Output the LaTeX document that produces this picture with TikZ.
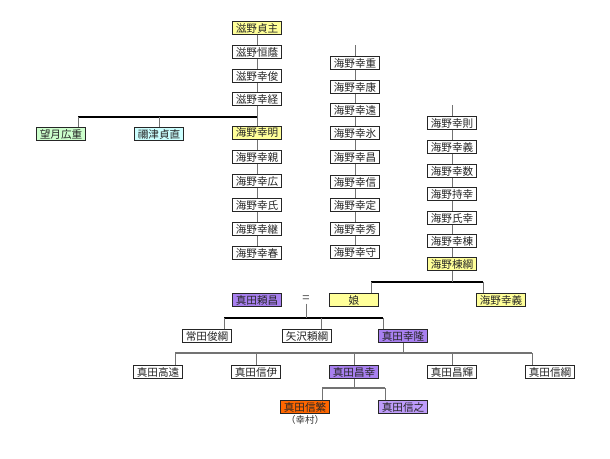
\documentclass[tikz,border=0pt]{standalone}
\usepackage{fontspec}
\newfontfamily\jp{Noto Sans CJK JP}
\definecolor{yel}{HTML}{FFFF99}
\definecolor{grn}{HTML}{CCFFCC}
\definecolor{cyn}{HTML}{CCFFFF}
\definecolor{pur}{HTML}{A880F0}
\definecolor{pur2}{HTML}{BE9CFA}
\definecolor{org}{HTML}{FF6600}
\tikzset{
  person/.style={draw=black!85, line width=0.9pt, fill=white, minimum width=49pt, minimum height=12.5pt, inner sep=0pt, font=\jp\fontsize{10.6}{10}\selectfont, text=black!85},
  link/.style={draw=black!55, line width=0.8pt},
  bar/.style={draw=black, line width=1.5pt},
  gbar/.style={draw=black!55, line width=1.3pt},
}
\begin{document}
\begin{tikzpicture}[x=1pt,y=-1pt]
\useasboundingbox (0,0) rectangle (610,458);
% column A
\node[person,fill=yel] (a1) at (257,28) {滋野貞主};
\node[person] (a2) at (257,52) {滋野恒蔭};
\node[person] (a3) at (257,76) {滋野幸俊};
\node[person] (a4) at (257,99) {滋野幸経};
\node[person,fill=yel] (a5) at (257,133) {海野幸明};
\node[person] (a6) at (257,157) {海野幸親};
\node[person] (a7) at (257,181) {海野幸広};
\node[person] (a8) at (257,205) {海野幸氏};
\node[person] (a9) at (257,229) {海野幸継};
\node[person] (a10) at (257,253) {海野幸春};
\node[person,fill=grn] (m1) at (61,134) {望月広重};
\node[person,fill=cyn] (n1) at (159,134) {禰津貞直};
% column B
\coordinate (btop) at (355,45);
\node[person] (b1) at (355,63) {海野幸重};
\node[person] (b2) at (355,87) {海野幸康};
\node[person] (b3) at (355,110) {海野幸遠};
\node[person] (b4) at (355,133) {海野幸氷};
\node[person] (b5) at (355,157) {海野幸昌};
\node[person] (b6) at (355,182) {海野幸信};
\node[person] (b7) at (355,205) {海野幸定};
\node[person] (b8) at (355,229) {海野幸秀};
\node[person] (b9) at (355,252) {海野幸守};
% column C
\coordinate (ctop) at (452,105);
\node[person] (c1) at (452,123) {海野幸則};
\node[person] (c2) at (452,147) {海野幸義};
\node[person] (c3) at (452,171) {海野幸数};
\node[person] (c4) at (452,194) {海野持幸};
\node[person] (c5) at (452,218) {海野氏幸};
\node[person] (c6) at (452,241) {海野幸棟};
\node[person,fill=yel] (c7) at (452,264) {海野棟綱};
% row of 娘
\node[person,fill=pur] (s1) at (257,300) {真田頼昌};
\node[font=\jp\fontsize{13}{13}\selectfont, text=black!70, inner sep=1pt] (eq) at (306,299) {=};
\node[person,fill=yel] (mu) at (354,300) {娘};
\node[person,fill=yel] (u2) at (501,300) {海野幸義};
% children of 頼昌
\node[person] (t1) at (207,336) {常田俊綱};
\node[person] (y1) at (307,336) {矢沢頼綱};
\node[person,fill=pur] (s2) at (403,336) {真田幸隆};
% children of 幸隆
\node[person] (r1) at (158,372) {真田高遠};
\node[person] (r2) at (256,372) {真田信伊};
\node[person,fill=pur] (r3) at (354,372) {真田昌幸};
\node[person] (r4) at (452,372) {真田昌輝};
\node[person] (r5) at (550,372) {真田信綱};
% children of 昌幸
\node[person,fill=org] (k1) at (305,407) {真田信繁};
\node[font=\jp\fontsize{9.5}{10}\selectfont, text=black!80, inner sep=0pt] (k1n) at (305,420) {（幸村）};
\node[person,fill=pur2] (k2) at (403,407) {真田信之};
% chains
\foreach \p/\q in {a1/a2,a2/a3,a3/a4,a5/a6,a6/a7,a7/a8,a8/a9,a9/a10,
  btop/b1,b1/b2,b2/b3,b3/b4,b4/b5,b5/b6,b6/b7,b7/b8,b8/b9,
  ctop/c1,c1/c2,c2/c3,c3/c4,c4/c5,c5/c6,c6/c7}
  \draw[link] (\p) -- (\q);
% bar 1
\coordinate (j1a) at (78,117);
\coordinate (j1b) at (257,117);
\draw[link] (a4) -- (j1b);
\draw[bar] (j1a) -- (j1b);
\draw[link] (j1a) -- (j1a |- m1.north);
\draw[link] (j1b -| n1) -- (n1);
\draw[link] (j1b) -- (a5);
% bar 2
\coordinate (j2a) at (371,282);
\coordinate (j2b) at (483,282);
\draw[bar] (j2a) -- (j2b);
\draw[link] (c7) -- (c7 |- j2a);
\draw[link] (j2a) -- (j2a |- mu.north);
\draw[link] (j2b) -- (j2b |- u2.north);
% bar 3
\coordinate (j3a) at (224,318);
\coordinate (j3m) at (321,318);
\coordinate (j3b) at (383,318);
\draw[bar] (j3a) -- (j3b);
\draw[link] (eq) -- (eq |- j3a);
\draw[link] (j3a) -- (j3a |- t1.north);
\draw[link] (j3m) -- (j3m |- y1.north);
\draw[link] (j3b) -- (j3b |- s2.north);
% bar 4
\coordinate (j4a) at (175,353);
\coordinate (j4b) at (532,353);
\draw[gbar] (j4a) -- (j4b);
\draw[link] (s2) -- (s2 |- j4a);
\draw[link] (j4a) -- (j4a |- r1.north);
\draw[link] (j4a -| r2) -- (r2);
\draw[link] (j4a -| r3) -- (r3);
\draw[link] (j4a -| r4) -- (r4);
\draw[link] (j4b) -- (j4b |- r5.north);
% bar 5
\coordinate (j5a) at (322,388);
\coordinate (j5b) at (385,388);
\draw[gbar] (j5a) -- (j5b);
\draw[link] (r3) -- (r3 |- j5a);
\draw[link] (j5a) -- (j5a |- k1.north);
\draw[link] (j5b) -- (j5b |- k2.north);
\end{tikzpicture}
\end{document}
